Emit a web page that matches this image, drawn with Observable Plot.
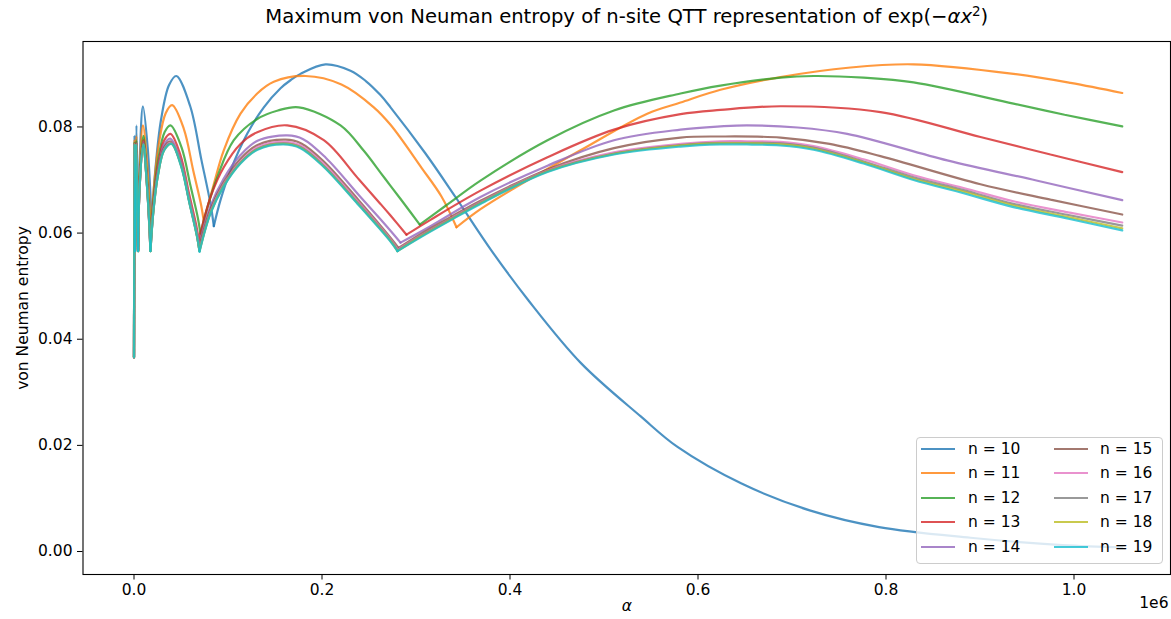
<!DOCTYPE html>
<html>
<head>
<meta charset="utf-8">
<script src="https://cdn.jsdelivr.net/npm/d3@7"></script>
<script src="https://cdn.jsdelivr.net/npm/@observablehq/plot@0.6"></script>
<style>
  body { margin: 0; background: #fff; }
  #chart { position: relative; width: 1171px; height: 619px; font-family: "DejaVu Sans", sans-serif; }
  #legend { position: absolute; left: 916px; top: 437px; width: 247px; height: 127px; box-sizing: border-box;
            background: rgba(255,255,255,0.8); border: 1px solid #cccccc; border-radius: 4px; }
  .lg-line { position: absolute; width: 34px; height: 2px; opacity: 0.8; }
  .lg-text { position: absolute; font-size: 15.5px; line-height: 20px; color: #000; white-space: pre; }
</style>
</head>
<body>
<div id="chart"></div>
<script>
// alpha in units of 1e6 (axis offset label "1e6"), value = max von Neumann entropy
const n10 = [[0,0.0366],[0.0006,0.0783],[0.0011,0.0583],[0.0026,0.0803],[0.0045,0.0599],
  [0.0062,0.0743],[0.0095,0.0839],[0.0145,0.0762],[0.0188,0.0619],
  [0.0228,0.0721],[0.0287,0.0813],[0.0373,0.0879],[0.0450,0.0896],[0.0598,0.0839],[0.0717,0.0738],[0.0816,0.0653],[0.0849,0.0613],
  [0.0920,0.0662],[0.1027,0.0718],[0.1204,0.0787],[0.1381,0.0837],[0.1559,0.0873],[0.1665,0.0888],[0.1771,0.0900],[0.2037,0.0918],
  [0.2303,0.0906],[0.2463,0.0887],[0.2622,0.0860],[0.2729,0.0837],[0.3101,0.0750],[0.3420,0.0668],[0.3803,0.0567],[0.4197,0.0473],
  [0.4755,0.0355],[0.5388,0.0255],[0.5782,0.0197],[0.6463,0.0128],[0.7197,0.0077],[0.7926,0.0046],[0.8899,0.0026],[0.9878,0.0012],[1.0513,0.0008]];
const n11 = [[0,0.0366],[0.0006,0.0775],[0.0011,0.0575],[0.0025,0.0783],[0.0044,0.0583],
  [0.0060,0.0715],[0.0095,0.0803],[0.0139,0.0732],[0.0179,0.0599],
  [0.0213,0.0689],[0.0264,0.0768],[0.0337,0.0826],[0.0406,0.0841],[0.0529,0.0797],[0.0630,0.0718],[0.0715,0.0652],[0.0743,0.0621],
  [0.0846,0.0690],[0.0955,0.0756],[0.1133,0.0825],[0.1311,0.0863],[0.1487,0.0885],[0.1824,0.0896],[0.2207,0.0880],[0.2551,0.0837],
  [0.2729,0.0804],[0.3059,0.0723],[0.3271,0.0669],[0.3431,0.0611],
  [0.3686,0.0645],[0.4040,0.0684],[0.4750,0.0756],[0.5460,0.0825],[0.5814,0.0846],[0.6239,0.0870],[0.6878,0.0894],[0.7622,0.0912],
  [0.8293,0.0918],[0.9356,0.0900],[0.9963,0.0883],[1.0513,0.0864]];
const n12 = [[0,0.0366],[0.0006,0.0771],[0.0011,0.0570],[0.0025,0.0775],[0.0044,0.0575],
  [0.0060,0.0700],[0.0099,0.0783],[0.0136,0.0713],[0.0176,0.0583],
  [0.0208,0.0664],[0.0256,0.0737],[0.0325,0.0790],[0.0388,0.0803],[0.0505,0.0762],[0.0601,0.0689],[0.0680,0.0628],[0.0707,0.0599],
  [0.0780,0.0648],[0.0885,0.0705],[0.1062,0.0775],[0.1311,0.0815],[0.1531,0.0831],[0.1753,0.0837],[0.2197,0.0803],[0.2445,0.0755],
  [0.2622,0.0714],[0.2729,0.0689],[0.2888,0.0652],[0.3040,0.0616],
  [0.3319,0.0652],[0.3686,0.0699],[0.4399,0.0775],[0.5106,0.0831],[0.5814,0.0863],[0.6239,0.0878],[0.6878,0.0893],[0.7229,0.0896],
  [0.7760,0.0893],[0.8293,0.0884],[0.9356,0.0844],[0.9900,0.0823],[1.0513,0.0801]];
const n13 = [[0,0.0366],[0.0006,0.0769],[0.0011,0.0568],[0.0025,0.0771],[0.0044,0.0570],
  [0.0060,0.0693],[0.0099,0.0775],[0.0135,0.0705],[0.0175,0.0575],
  [0.0206,0.0653],[0.0252,0.0723],[0.0319,0.0774],[0.0388,0.0787],[0.0494,0.0747],[0.0586,0.0674],[0.0663,0.0614],[0.0689,0.0586],
  [0.0814,0.0668],[0.0955,0.0724],[0.1133,0.0768],[0.1311,0.0790],[0.1630,0.0803],[0.2019,0.0775],[0.2374,0.0705],[0.2622,0.0655],
  [0.2729,0.0633],[0.2899,0.0597],
  [0.3154,0.0625],[0.3686,0.0680],[0.4399,0.0743],[0.5106,0.0795],[0.5814,0.0824],[0.6239,0.0832],[0.6878,0.0839],[0.7941,0.0828],
  [0.9005,0.0781],[0.9750,0.0748],[1.0513,0.0715]];
const n14 = [[0,0.0366],[0.0006,0.0768],[0.0011,0.0567],[0.0025,0.0769],[0.0044,0.0568],
  [0.0060,0.0690],[0.0099,0.0771],[0.0135,0.0702],[0.0175,0.0570],
  [0.0206,0.0647],[0.0252,0.0716],[0.0319,0.0766],[0.0385,0.0778],[0.0495,0.0738],[0.0588,0.0665],[0.0665,0.0605],[0.0691,0.0577],
  [0.0814,0.0651],[0.0952,0.0702],[0.1133,0.0747],[0.1314,0.0774],[0.1630,0.0784],[0.1800,0.0777],[0.2040,0.0742],[0.2400,0.0670],
  [0.2622,0.0626],[0.2740,0.0602],[0.2835,0.0582],
  [0.3154,0.0613],[0.3686,0.0668],[0.4399,0.0727],[0.5106,0.0775],[0.5814,0.0795],[0.6239,0.0801],[0.6521,0.0803],[0.7059,0.0799],
  [0.7587,0.0787],[0.8651,0.0737],[0.9600,0.0699],[1.0513,0.0662]];
const n15 = [[0,0.0366],[0.0006,0.0767],[0.0011,0.0566],[0.0025,0.0768],[0.0044,0.0567],
  [0.0060,0.0688],[0.0099,0.0769],[0.0135,0.0699],[0.0175,0.0568],
  [0.0206,0.0644],[0.0252,0.0712],[0.0319,0.0761],[0.0385,0.0773],[0.0495,0.0733],[0.0588,0.0660],[0.0665,0.0600],[0.0691,0.0572],
  [0.0814,0.0645],[0.0952,0.0695],[0.1133,0.0740],[0.1314,0.0766],[0.1612,0.0776],[0.1780,0.0769],[0.2025,0.0734],[0.2385,0.0663],
  [0.2735,0.0590],[0.2814,0.0572],
  [0.3048,0.0598],[0.3367,0.0630],[0.3686,0.0661],[0.4399,0.0720],[0.5106,0.0760],[0.5814,0.0780],[0.6239,0.0782],[0.6878,0.0780],
  [0.7400,0.0768],[0.7941,0.0745],[0.9005,0.0692],[0.9750,0.0663],[1.0513,0.0635]];
const n16 = [[0,0.0366],[0.0006,0.0767],[0.0011,0.0566],[0.0025,0.0767],[0.0044,0.0566],
  [0.0060,0.0687],[0.0099,0.0767],[0.0135,0.0698],[0.0175,0.0567],
  [0.0206,0.0642],[0.0253,0.0709],[0.0321,0.0758],[0.0395,0.0770],[0.0499,0.0730],[0.0593,0.0657],[0.0671,0.0596],[0.0697,0.0568],
  [0.0814,0.0641],[0.0952,0.0691],[0.1133,0.0735],[0.1314,0.0762],[0.1600,0.0772],[0.1775,0.0765],[0.2020,0.0730],[0.2380,0.0660],
  [0.2730,0.0588],[0.2806,0.0569],
  [0.3048,0.0595],[0.3367,0.0627],[0.3686,0.0658],[0.4399,0.0718],[0.5106,0.0752],[0.5814,0.0768],[0.6239,0.0773],[0.6521,0.0773],
  [0.6875,0.0772],[0.7229,0.0764],[0.7761,0.0739],[0.8293,0.0709],[0.8825,0.0685],[0.9356,0.0660],[0.9941,0.0639],[1.0513,0.0620]];
const n17 = [[0,0.0366],[0.0006,0.0767],[0.0011,0.0566],[0.0025,0.0767],[0.0044,0.0566],
  [0.0060,0.0687],[0.0099,0.0767],[0.0135,0.0697],[0.0175,0.0566],
  [0.0206,0.0641],[0.0253,0.0708],[0.0321,0.0757],[0.0397,0.0769],[0.0499,0.0729],[0.0593,0.0655],[0.0671,0.0594],[0.0697,0.0567],
  [0.0814,0.0639],[0.0952,0.0689],[0.1133,0.0733],[0.1314,0.0759],[0.1595,0.0769],[0.1773,0.0762],[0.2018,0.0727],[0.2379,0.0657],
  [0.2730,0.0586],[0.2804,0.0567],
  [0.3048,0.0594],[0.3367,0.0626],[0.3686,0.0657],[0.4399,0.0717],[0.5106,0.0750],[0.5814,0.0766],[0.6239,0.0770],[0.6521,0.0770],
  [0.6875,0.0769],[0.7229,0.0761],[0.7761,0.0735],[0.8293,0.0705],[0.8825,0.0681],[0.9356,0.0655],[0.9941,0.0634],[1.0513,0.0614]];
const n18 = [[0,0.0366],[0.0006,0.0767],[0.0011,0.0566],[0.0025,0.0767],[0.0044,0.0566],
  [0.0060,0.0687],[0.0099,0.0767],[0.0135,0.0697],[0.0175,0.0566],
  [0.0206,0.0641],[0.0253,0.0707],[0.0321,0.0756],[0.0398,0.0768],[0.0499,0.0728],[0.0593,0.0655],[0.0671,0.0593],[0.0697,0.0566],
  [0.0814,0.0638],[0.0952,0.0688],[0.1133,0.0732],[0.1314,0.0758],[0.1592,0.0768],[0.1772,0.0761],[0.2017,0.0726],[0.2378,0.0656],
  [0.2729,0.0585],[0.2803,0.0566],
  [0.3048,0.0593],[0.3367,0.0625],[0.3686,0.0656],[0.4399,0.0716],[0.5106,0.0749],[0.5814,0.0765],[0.6239,0.0769],[0.6521,0.0769],
  [0.6875,0.0767],[0.7229,0.0759],[0.7761,0.0733],[0.8293,0.0702],[0.8825,0.0678],[0.9356,0.0652],[0.9941,0.0630],[1.0513,0.0609]];
const n19 = [[0,0.0366],[0.0006,0.0767],[0.0011,0.0566],[0.0025,0.0767],[0.0044,0.0566],
  [0.0060,0.0687],[0.0099,0.0767],[0.0135,0.0697],[0.0175,0.0566],
  [0.0206,0.0641],[0.0253,0.0707],[0.0321,0.0756],[0.0398,0.0768],[0.0499,0.0727],[0.0593,0.0654],[0.0671,0.0593],[0.0697,0.0565],
  [0.0814,0.0637],[0.0952,0.0687],[0.1133,0.0731],[0.1314,0.0757],[0.1590,0.0767],[0.1771,0.0760],[0.2016,0.0725],[0.2378,0.0655],
  [0.2729,0.0584],[0.2803,0.0566],
  [0.3048,0.0592],[0.3367,0.0624],[0.3686,0.0655],[0.4399,0.0715],[0.5106,0.0748],[0.5814,0.0763],[0.6239,0.0767],[0.6521,0.0767],
  [0.6875,0.0765],[0.7229,0.0757],[0.7761,0.0731],[0.8293,0.0700],[0.8825,0.0675],[0.9356,0.0649],[0.9941,0.0627],[1.0513,0.0605]];

const seriesLabels = ["n = 10","n = 11","n = 12","n = 13","n = 14","n = 15","n = 16","n = 17","n = 18","n = 19"];
const seriesPoints = [n10, n11, n12, n13, n14, n15, n16, n17, n18, n19];
const palette = ["#1f77b4","#ff7f0e","#2ca02c","#d62728","#9467bd","#8c564b","#e377c2","#7f7f7f","#bcbd22","#17becf"];
const xTicks = [0, 0.2, 0.4, 0.6, 0.8, 1.0];
const yTicks = [0, 0.02, 0.04, 0.06, 0.08];
const titleText = "Maximum von Neuman entropy of n-site QTT representation of exp(−αx²)";
const xLabel = "α";
const xOffsetLabel = "1e6";
const yLabel = "von Neuman entropy";

// split each series into arches at its cusps (local minima) so each arch is drawn smooth and cusps stay sharp
const rows = [];
seriesPoints.forEach((pts, i) => {
  let seg = 0;
  pts.forEach(([a, v], j) => {
    rows.push({series: seriesLabels[i], part: seriesLabels[i] + "/" + seg, a, v});
    const isCusp = j > 0 && j < pts.length - 1 && v < pts[j - 1][1] && v < pts[j + 1][1];
    if (isCusp) {
      seg++;
      rows.push({series: seriesLabels[i], part: seriesLabels[i] + "/" + seg, a, v});
    }
  });
});

const plot = Plot.plot({
  width: 1171,
  height: 619,
  marginLeft: 82.5,
  marginRight: 1,
  marginTop: 41,
  marginBottom: 45,
  style: {fontFamily: "DejaVu Sans, sans-serif", fontSize: "15.5px", background: "#fff", color: "#000", overflow: "visible"},
  x: {domain: [-0.05426, 1.10266]},
  y: {domain: [-0.00433, 0.0961]},
  color: {domain: seriesLabels, range: palette},
  marks: [
    Plot.line(rows, {x: "a", y: "v", z: "part", stroke: "series", curve: "catmull-rom", strokeWidth: 2.2, strokeOpacity: 0.8, strokeLinejoin: "miter"}),
    Plot.frame({stroke: "#000", strokeWidth: 1.1}),
    Plot.axisX({ticks: xTicks, tickFormat: d => d.toFixed(1), tickSize: 5.5, tickPadding: 4, label: null}),
    Plot.axisY({ticks: yTicks, tickFormat: d => d.toFixed(2), tickSize: 5.5, tickPadding: 5, label: null}),
    Plot.text([titleText], {text: d => d, frameAnchor: "top", dy: -18.5, lineAnchor: "bottom", fontSize: 19.6}),
    Plot.text([xLabel], {text: d => d, frameAnchor: "bottom", dy: 36, lineAnchor: "bottom", fontStyle: "italic", fontSize: 15.5}),
    Plot.text([xOffsetLabel], {text: d => d, frameAnchor: "bottom-right", dx: -2, dy: 33.5, lineAnchor: "bottom", textAnchor: "end", fontSize: 15.5}),
    Plot.text([yLabel], {text: d => d, frameAnchor: "left", dx: -60, rotate: -90, lineAnchor: "middle", textAnchor: "middle", fontSize: 15.5})
  ]
});

// title with mathtext-like italics and superscript
d3.select(plot).selectAll("text").filter(function() { return this.textContent === titleText; }).each(function() {
  const t = d3.select(this);
  t.text(null);
  t.append("tspan").text("Maximum von Neuman entropy of n-site QTT representation of exp(−");
  t.append("tspan").attr("font-style", "italic").text("αx");
  t.append("tspan").attr("dy", -7.5).attr("font-size", 13.5).text("2");
  t.append("tspan").attr("dy", 7.5).text(")");
});

const chart = document.getElementById("chart");
chart.appendChild(plot);

// legend
const colorScale = plot.scale("color");
const legend = document.createElement("div");
legend.id = "legend";
seriesLabels.forEach((label, i) => {
  const col = Math.floor(i / 5), row = i % 5;
  const cy = 10.5 + row * 24.6;
  const line = document.createElement("div");
  line.className = "lg-line";
  line.style.left = (col ? 137 : 4) + "px";
  line.style.top = Math.round(cy - 1) + "px";
  line.style.background = colorScale.apply(label);
  legend.appendChild(line);
  const txt = document.createElement("div");
  txt.className = "lg-text";
  txt.style.left = (col ? 183 : 51) + "px";
  txt.style.top = (cy - 10) + "px";
  txt.textContent = label;
  legend.appendChild(txt);
});
chart.appendChild(legend);
</script>
</body>
</html>
